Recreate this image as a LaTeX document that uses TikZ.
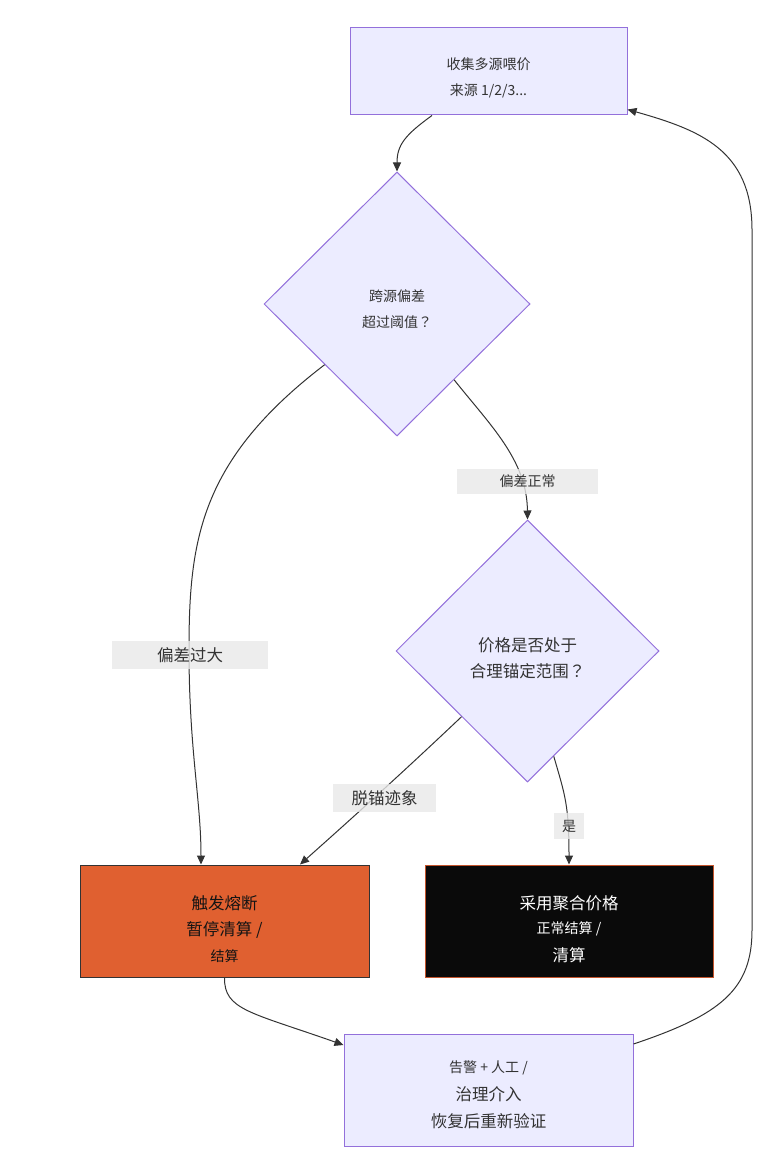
\documentclass[tikz,border=0pt]{standalone}
\usepackage{fontspec}
\setmainfont{Noto Sans CJK SC}
\newfontfamily\cjktc{Noto Sans CJK TC}
\usepackage{xcolor}
\usepackage{tikz}
\usetikzlibrary{shapes.geometric,arrows.meta}
\newcommand{\txtS}{\fontsize{14}{26}\selectfont}
\newcommand{\txtL}{\fontsize{16.5}{26}\selectfont}
\newcommand{\padtop}[1]{\rule{0pt}{#1pt}}
\newcommand{\qmark}{{\cjktc ？}}

\begin{document}
\begin{tikzpicture}[x=1pt,y=-1pt]
						\tikzstyle{every node}=[font=\txtS, text={rgb,255:red,51; green,51; blue,51}, align=center]
						\tikzstyle{plain}=[draw={rgb,255:red,147; green,112; blue,219}, fill={rgb,255:red,236; green,236; blue,255}, line width=1pt, inner sep=0pt]
						\tikzstyle{choice}=[plain, diamond, aspect=1]
						\tikzstyle{flow}=[draw={rgb,255:red,51; green,51; blue,51}, line width=1pt, -{Triangle[length=9pt,width=8pt]}]
						\tikzstyle{tag}=[fill={rgb,255:red,232; green,232; blue,232}, fill opacity=0.8, text opacity=1, inner sep=0pt]
						\useasboundingbox (0,0) rectangle (780,1155);
						\node [plain, minimum width=277pt, minimum height=87pt] (src) at (488.5,71.5) {\padtop{25}收集多源喂价\\来源 1/2/3...};
						\node [choice, minimum width=266pt, minimum height=264pt] (dev) at (397,304) {\padtop{23}跨源偏差\\超过阈值\qmark};
						\node [choice, minimum width=263pt, minimum height=262pt, font=\txtL] (anchor) at (527.5,651) {\padtop{29}价格是否处于\\合理锚定范围\qmark};
						\node [draw={rgb,255:red,51; green,51; blue,51}, fill={rgb,255:red,224; green,96; blue,48}, line width=1pt, minimum width=289pt, minimum height=112pt, text={rgb,255:red,20; green,20; blue,20}] (halt) at (224.5,921) {\txtL\padtop{31}触发熔断\\\txtL 暂停清算 /\\\txtS 结算};
						\node [draw={rgb,255:red,196; green,84; blue,44}, fill={rgb,255:red,10; green,10; blue,10}, line width=1pt, minimum width=288pt, minimum height=112pt, text=white] (agg) at (569,921) {\txtL\padtop{31}采用聚合价格\\[-2pt]\txtS 正常结算 /\\[2pt]\txtL 清算};
						\node [plain, minimum width=289pt, minimum height=112pt] (alert) at (488.5,1090) {\txtS\padtop{22}告警 + 人工 /\\[2pt]\txtL 治理介入\\[1pt]\txtL 恢复后重新验证};
						\draw [flow] ([xshift=-56.5pt]src.south) .. controls (405,135) and (397,145) .. (dev.north);
						\draw [flow] (dev.220) .. controls (200,460) and (189,540) .. (189,650) .. controls (189,750) and (201,800) .. ([xshift=-23.5pt]halt.north);
						\draw [flow] (dev.-53) .. controls (490,425) and (527,460) .. (anchor.north);
						\draw [flow] (anchor.south west) .. controls (400,775) and (350,820) .. ([xshift=75.5pt]halt.north);
						\draw [flow] (anchor.-76) .. controls (565,795) and (569,805) .. (agg.north);
						\draw [flow] (halt.south) .. controls (224,1010) and (250,1012) .. ([yshift=45pt]alert.west);
						\draw [flow] ([yshift=46pt]alert.east) .. controls (720,1015) and (752,990) .. (752,930) -- (752,230) .. controls (752,150) and (700,130) .. ([yshift=-38pt]src.east);
						\node [tag, minimum width=156pt, minimum height=28pt, font=\txtL] (big) at (190,655) {偏差过大};
						\node [tag, minimum width=141pt, minimum height=25pt] (normal) at (527.5,481) {偏差正常};
						\node [tag, minimum width=103pt, minimum height=28pt, font=\txtL] (drift) at (384.5,798) {脱锚迹象};
						\node [tag, minimum width=30pt, minimum height=26pt] (yes) at (569,826) {是};
					\end{tikzpicture}
\end{document}
